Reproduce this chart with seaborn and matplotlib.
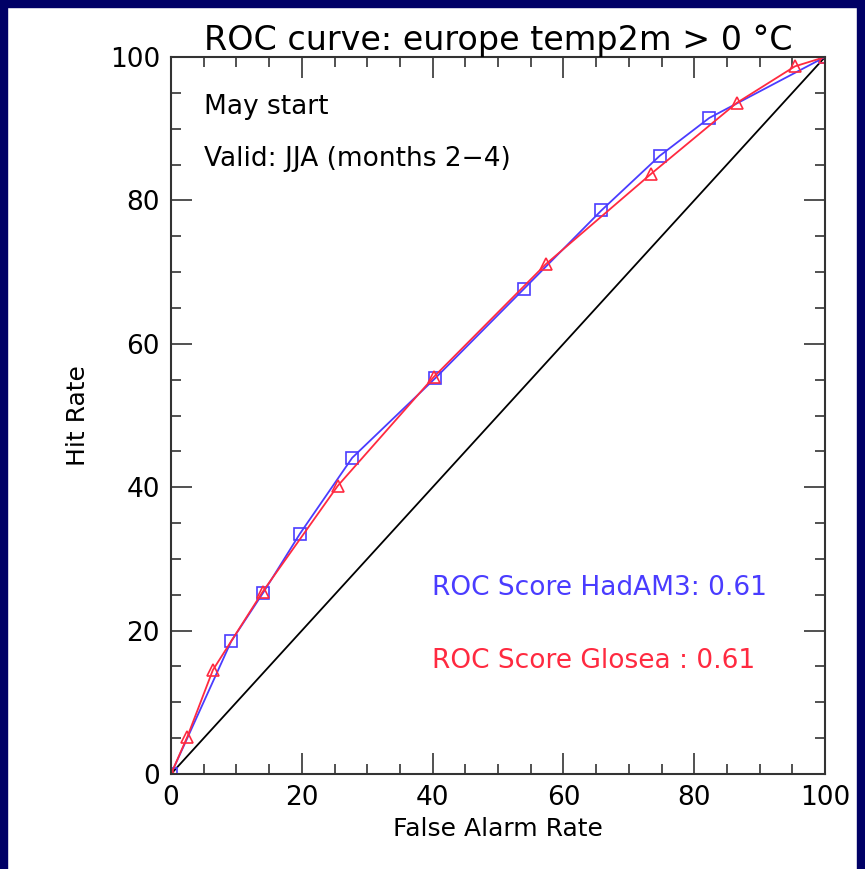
import seaborn as sns
import matplotlib.pyplot as plt
import pandas as pd
from matplotlib.patches import Rectangle
from matplotlib.ticker import MultipleLocator

# ROC points (false alarm rate, hit rate) in %
hadam3_far = [0, 9.2, 14.1, 19.7, 27.7, 40.4, 54.0, 65.8, 74.7, 82.3, 100]
hadam3_hr = [0, 18.5, 25.3, 33.5, 44.1, 55.2, 67.7, 78.6, 86.2, 91.5, 100]
glosea_far = [0, 2.5, 6.4, 14.0, 25.5, 40.2, 57.3, 73.4, 86.5, 95.4, 100]
glosea_hr = [0, 5.2, 14.5, 25.4, 40.2, 55.4, 71.1, 83.7, 93.6, 98.7, 100]
diag = [0, 100]

title = "ROC curve: europe temp2m > 0 \u00b0C"
notes = ["May start", "Valid: JJA (months 2\u22124)"]
scores = {"HadAM3": "0.61", "Glosea ": "0.61"}

blue = '#4a3cff'
red = '#ff2a40'

sns.set_style('ticks')
plt.rcParams['font.family'] = ['DejaVu Sans']
plt.rcParams['text.color'] = 'black'
plt.rcParams['axes.labelcolor'] = 'black'
plt.rcParams['xtick.color'] = 'black'
plt.rcParams['ytick.color'] = 'black'

fig = plt.figure(figsize=(8.65, 8.69), dpi=100)
fig.patch.set_facecolor('white')
# navy frame on top, left and right
fig.patches.append(Rectangle((0, 0.992), 1, 0.008, transform=fig.transFigure, color='#000066', zorder=0))
fig.patches.append(Rectangle((0, 0), 0.008, 1, transform=fig.transFigure, color='#000066', zorder=0))
fig.patches.append(Rectangle((0.991, 0), 0.009, 1, transform=fig.transFigure, color='#000066', zorder=0))

ax = fig.add_axes([0.1977, 0.1093, 0.7561, 0.8251])

df_h = pd.DataFrame({'far': hadam3_far, 'hr': hadam3_hr})
df_g = pd.DataFrame({'far': glosea_far, 'hr': glosea_hr})
df_d = pd.DataFrame({'far': diag, 'hr': diag})

sns.lineplot(data=df_d, x='far', y='hr', color='black', lw=1.3, ax=ax, sort=False)
sns.lineplot(data=df_h, x='far', y='hr', color=blue, lw=1.3, ax=ax, sort=False,
             marker='s', markersize=9, markerfacecolor='none', markeredgecolor=blue, markeredgewidth=1.2)
sns.lineplot(data=df_g, x='far', y='hr', color=red, lw=1.3, ax=ax, sort=False,
             marker='^', markersize=8, markerfacecolor='none', markeredgecolor=red, markeredgewidth=1.2)

ax.set_xlim(0, 100)
ax.set_ylim(0, 100)
ax.xaxis.set_major_locator(MultipleLocator(20))
ax.yaxis.set_major_locator(MultipleLocator(20))
ax.xaxis.set_minor_locator(MultipleLocator(5))
ax.yaxis.set_minor_locator(MultipleLocator(5))
ax.tick_params(which='both', direction='in', top=True, right=True, color='#333333', width=1.2)
ax.tick_params(which='major', length=15, labelsize=19, pad=8, labelcolor='black')
ax.tick_params(which='minor', length=7)
for s in ax.spines.values():
    s.set_color('#333333')
    s.set_linewidth(1.5)

ax.set_title(title, fontsize=24, pad=5, color='black')
ax.set_xlabel("False Alarm Rate", fontsize=18, labelpad=4)
ax.set_ylabel("Hit Rate", fontsize=18, labelpad=14)

ax.text(5, 93, notes[0], fontsize=19, va='center')
ax.text(5, 85.8, notes[1], fontsize=19, va='center')
ax.text(39.9, 26, "ROC Score HadAM3: " + scores["HadAM3"], fontsize=19, color=blue, va='center')
ax.text(39.9, 15.8, "ROC Score Glosea : " + scores["Glosea "], fontsize=19, color=red, va='center')

fig.savefig('out.png', dpi=100)
